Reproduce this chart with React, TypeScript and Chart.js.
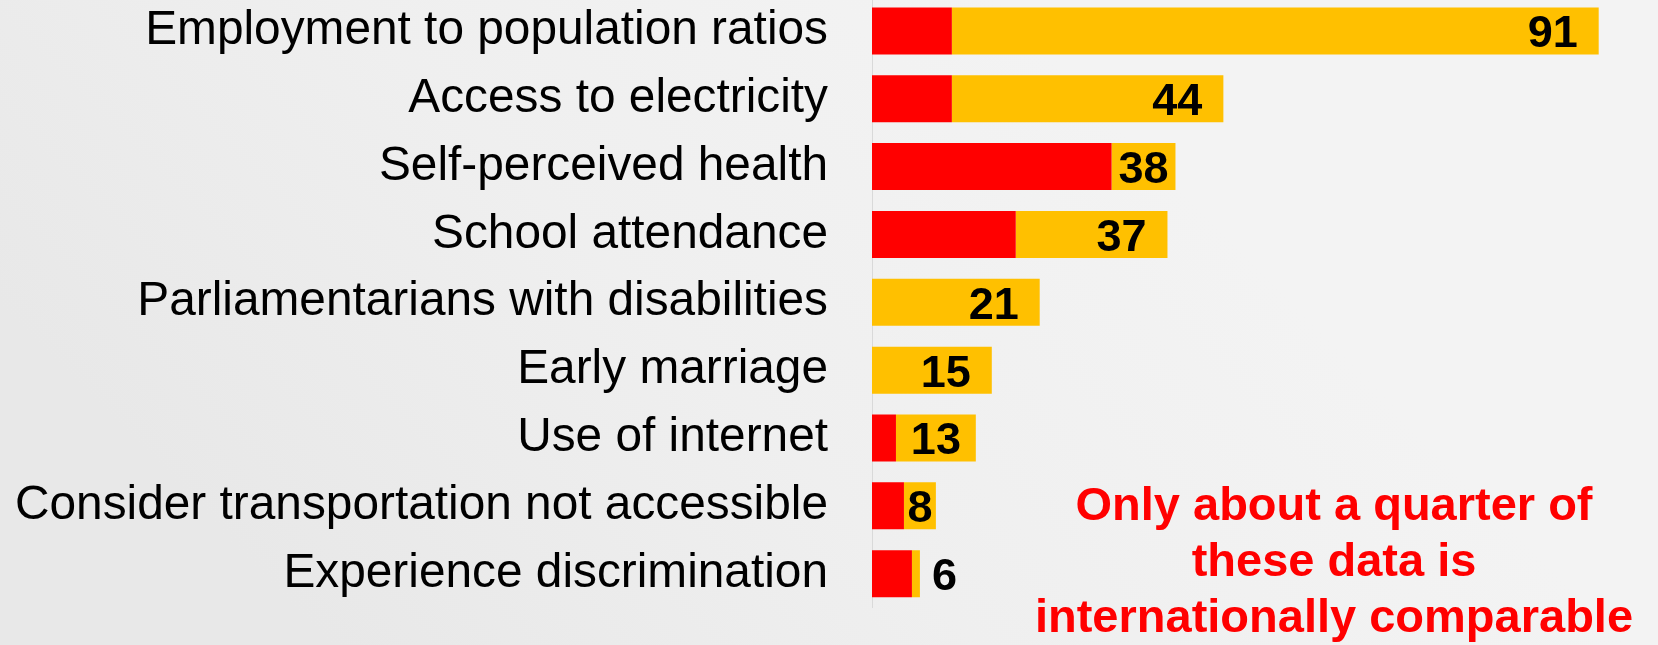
import React, { useEffect, useRef } from "react";
import { Chart, registerables } from "chart.js";

Chart.register(...registerables);

const categories = [
  "Employment to population ratios",
  "Access to electricity",
  "Self-perceived health",
  "School attendance",
  "Parliamentarians with disabilities",
  "Early marriage",
  "Use of internet",
  "Consider transportation not accessible",
  "Experience discrimination",
];

const redValues = [10, 10, 30, 18, 0, 0, 3, 4, 5];
const yellowValues = [81, 34, 8, 19, 21, 15, 10, 4, 1];

const noteLines = ["Only about a quarter of", "these data is", "internationally comparable"];

const RED = "#FF0000";
const YELLOW = "#FFC000";
const FONT = "'Liberation Sans', Arial, sans-serif";

const backgroundPlugin = {
  id: "bgPlugin",
  beforeDraw(chart: any) {
    const { ctx, width, height } = chart;
    ctx.save();
    const g = ctx.createLinearGradient(width * 0.6, 0, width * 0.2, height);
    g.addColorStop(0, "#f3f3f3");
    g.addColorStop(0.5, "#efefef");
    g.addColorStop(1, "#e8e8e8");
    ctx.fillStyle = g;
    ctx.fillRect(0, 0, width, height);
    ctx.restore();
  },
};

const labelPlugin = {
  id: "totalLabels",
  afterDatasetsDraw(chart: any) {
    const { ctx } = chart;
    const meta = chart.getDatasetMeta(1);
    ctx.save();
    ctx.font = `bold 45px ${FONT}`;
    ctx.fillStyle = "#000";
    ctx.textBaseline = "alphabetic";
    meta.data.forEach((bar: any, i: number) => {
      const total = redValues[i] + yellowValues[i];
      const text = String(total);
      const w = ctx.measureText(text).width;
      const start = Math.min(bar.base, bar.x);
      const end = Math.max(bar.base, bar.x);
      const seg = end - start;
      const y = bar.y + 16.5;
      if (seg >= w + 30) {
        ctx.textAlign = "right";
        ctx.fillText(text, end - 21, y);
      } else if (seg >= w) {
        ctx.textAlign = "center";
        ctx.fillText(text, (start + end) / 2, y);
      } else {
        ctx.textAlign = "left";
        ctx.fillText(text, end + 12, y);
      }
    });
    ctx.restore();
  },
};

const notePlugin = {
  id: "notePlugin",
  afterDraw(chart: any) {
    const { ctx } = chart;
    ctx.save();
    ctx.font = `bold 47px ${FONT}`;
    ctx.fillStyle = RED;
    ctx.textAlign = "center";
    ctx.textBaseline = "alphabetic";
    const baselines = [523, 579, 635];
    noteLines.forEach((line, i) => ctx.fillText(line, 1334, baselines[i]));
    ctx.restore();
  },
};

export default function App() {
  const ref = useRef<HTMLCanvasElement>(null);

  useEffect(() => {
    document.body.style.overflow = "hidden";
    const chart = new Chart(ref.current!, {
      type: "bar",
      data: {
        labels: categories,
        datasets: [
          {
            data: redValues,
            backgroundColor: RED,
            borderWidth: 0,
            barPercentage: 0.6926,
            categoryPercentage: 1,
          },
          {
            data: yellowValues,
            backgroundColor: YELLOW,
            borderWidth: 0,
            barPercentage: 0.6926,
            categoryPercentage: 1,
          },
        ],
      },
      options: {
        indexAxis: "y",
        animation: false,
        responsive: false,
        layout: { padding: { left: 0, right: 3.4, top: 0, bottom: 37.4 } },
        plugins: { legend: { display: false }, tooltip: { enabled: false } },
        scales: {
          x: {
            stacked: true,
            display: false,
            min: 0,
            max: 98,
          },
          y: {
            stacked: true,
            grid: { display: false, drawTicks: false },
            border: { display: true, color: "#d9d9d9", width: 1 },
            ticks: {
              color: "#000",
              padding: 44,
              font: { family: FONT, size: 47.8 },
            },
            afterFit(scale: any) {
              scale.width = 872;
              scale.paddingTop = 0;
              scale.paddingBottom = 0;
            },
          },
        },
      },
      plugins: [backgroundPlugin, labelPlugin, notePlugin],
    });
    return () => chart.destroy();
  }, []);

  return (
    <div style={{ position: "absolute", left: 0, top: -3, width: 1658, height: 648 }}>
      <canvas ref={ref} width={1658} height={648} style={{ display: "block" }} />
    </div>
  );
}
